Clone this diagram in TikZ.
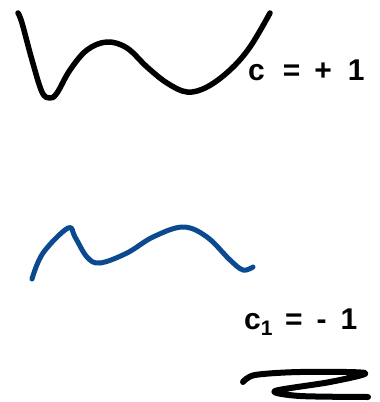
\documentclass[tikz,border=0pt]{standalone}
\usepackage{fontspec}
\setmainfont{Liberation Sans}
\definecolor{inkblue}{HTML}{0B4A8F}
\begin{document}
\begin{tikzpicture}[x=1pt,y=-1pt,
  ink/.style={line width=5.5pt,line cap=round,line join=round},
  hand/.style={inner sep=0pt,font=\fontsize{30}{30}\selectfont\bfseries}]
\useasboundingbox (0,0) rectangle (380,402);
% black W curve
\draw[ink,black] plot[smooth,tension=0.6] coordinates {
 (18,13) (22,23) (32,60) (42,92) (50,98) (57,93) (70,70) (87,50) (107,42)
 (127,48) (147,67) (167,83) (187,92) (207,87) (230,70) (250,47) (270,13)};
\node[hand,anchor=west] (cplus) at (248,70) {c\hspace{18pt}=\hspace{14pt}+\hspace{16pt}1};
% blue M curve
\draw[ink,inkblue,line width=5pt] plot[smooth,tension=0.6] coordinates {
 (32,279) (43,253) (68,228) (75,237) (87,257) (100,263) (127,253) (153,237)
 (183,227) (207,237) (230,260) (243,270) (253,267)};
\node[hand,anchor=west] (cminus) at (244,322) {c\textsubscript{1}\hspace{12pt}=\hspace{14pt}-\hspace{14pt}1};
% scribble underline
\draw[ink,line width=6pt] plot[smooth,tension=0.5] coordinates {
 (243,382) (255,375) (300,372) (365,373) (330,382) (275,391) (300,396) (368,397)};
\end{tikzpicture}
\end{document}
